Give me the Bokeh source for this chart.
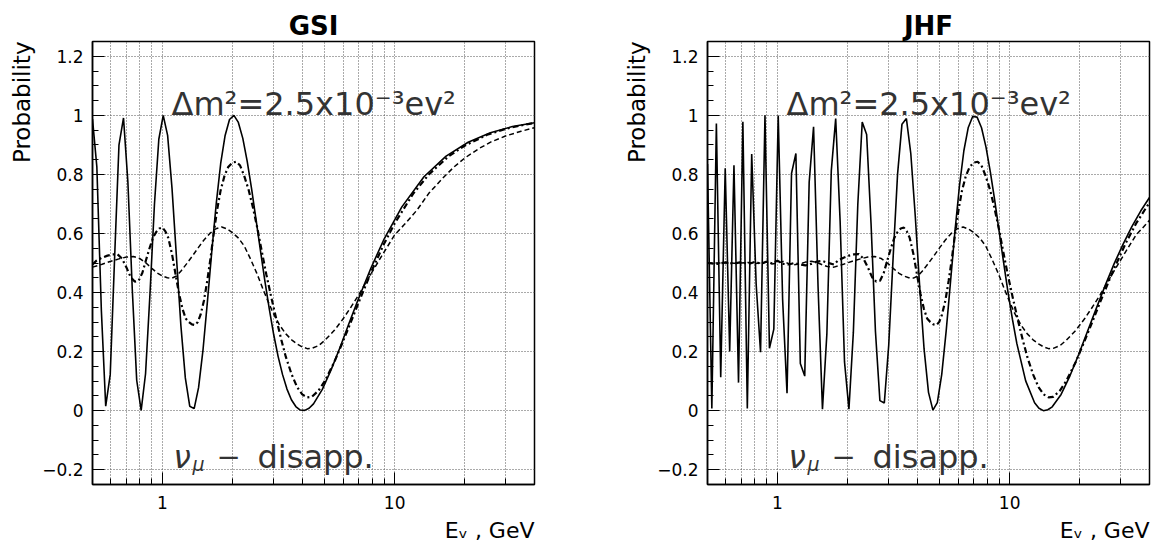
from bokeh.plotting import figure
from bokeh.models import Label, FixedTicker, Range1d, Title
from bokeh.layouts import row
from bokeh.embed import file_html
from bokeh.resources import INLINE

# ---------------- data ----------------
panel_titles = ["GSI", "JHF"]
x_title = "E\u1d65 , GeV"
y_title = "Probability"
x_major_ticks = [1, 10]
x_major_labels = ["1", "10"]
x_minor_ticks = [0.5, 0.6, 0.7, 0.8, 0.9, 2, 3, 4, 5, 6, 7, 8, 9, 20, 30, 40]
y_major_ticks = [-0.2, 0.0, 0.2, 0.4, 0.6, 0.8, 1.0, 1.2]
y_major_labels = ["\u22120.2", "0", "0.2", "0.4", "0.6", "0.8", "1", "1.2"]
y_minor_ticks = [-0.25, -0.2, -0.15, -0.1, -0.05, 0.0, 0.05, 0.1, 0.15, 0.2, 0.25, 0.3,
                 0.35, 0.4, 0.45, 0.5, 0.55, 0.6, 0.65, 0.7, 0.75, 0.8, 0.85, 0.9, 0.95,
                 1.0, 1.05, 1.1, 1.15, 1.2, 1.25]

# GSI, solid curve (sampled points)
gsi_solid_e = [0.500, 0.522, 0.546, 0.570, 0.596, 0.623, 0.650, 0.680, 0.710, 0.742,
               0.775, 0.810, 0.846, 0.884, 0.924, 0.965, 1.008, 1.053, 1.100, 1.150,
               1.201, 1.255, 1.311, 1.370, 1.431, 1.496, 1.563, 1.633, 1.706, 1.782,
               1.862, 1.945, 2.032, 2.123, 2.219, 2.318, 2.422, 2.530, 2.643, 2.762,
               2.886, 3.015, 3.150, 3.291, 3.438, 3.592, 3.753, 3.921, 4.097, 4.280,
               4.472, 4.881, 5.329, 5.817, 6.350, 6.930, 7.905, 9.016, 10.74, 13.37,
               16.65, 20.72, 25.82, 32.13, 40.0]
gsi_solid_p = [0.987, 0.826, 0.338, 0.015, 0.122, 0.525, 0.899, 0.991, 0.775, 0.408,
               0.103, 0.001, 0.125, 0.396, 0.698, 0.919, 1.000, 0.932, 0.752, 0.517,
               0.288, 0.111, 0.015, 0.007, 0.078, 0.207, 0.371, 0.543, 0.703, 0.837,
               0.932, 0.986, 1.000, 0.976, 0.922, 0.844, 0.750, 0.647, 0.542, 0.439,
               0.344, 0.257, 0.183, 0.122, 0.073, 0.037, 0.014, 0.002, 0.001, 0.008,
               0.023, 0.072, 0.139, 0.214, 0.294, 0.372, 0.483, 0.582, 0.690, 0.792,
               0.862, 0.909, 0.941, 0.962, 0.975]

# GSI, dash-dot curve
gsi_dd_e = [0.50, 0.52, 0.55, 0.58, 0.61, 0.64, 0.67, 0.70, 0.73, 0.76,
            0.79, 0.82, 0.85, 0.88, 0.91, 0.94, 0.97, 1.00, 1.03, 1.06,
            1.10, 1.14, 1.18, 1.22, 1.26, 1.30, 1.34, 1.38, 1.42, 1.46,
            1.51, 1.56, 1.61, 1.66, 1.72, 1.78, 1.85, 1.92, 2.00, 2.08,
            2.16, 2.25, 2.35, 2.45, 2.56, 2.68, 2.80, 2.95, 3.10, 3.25,
            3.40, 3.60, 3.80, 4.00, 4.20, 4.40, 4.70, 5.00, 5.50, 6.00,
            6.50, 7.00, 8.00, 9.00, 10.0, 12.0, 14.0, 17.0, 20.0, 25.0,
            30.0, 35.0, 40.0]
gsi_dd_p = [0.495, 0.508, 0.518, 0.525, 0.529, 0.530, 0.515, 0.485, 0.452, 0.437,
            0.440, 0.467, 0.510, 0.550, 0.585, 0.605, 0.617, 0.620, 0.607, 0.585,
            0.530, 0.460, 0.395, 0.345, 0.312, 0.300, 0.292, 0.290, 0.300, 0.325,
            0.373, 0.440, 0.515, 0.595, 0.680, 0.745, 0.795, 0.825, 0.840, 0.843,
            0.830, 0.795, 0.748, 0.690, 0.620, 0.538, 0.462, 0.380, 0.307, 0.240,
            0.182, 0.123, 0.080, 0.055, 0.045, 0.047, 0.068, 0.100, 0.165, 0.236,
            0.303, 0.367, 0.477, 0.565, 0.634, 0.734, 0.799, 0.860, 0.897, 0.934,
            0.954, 0.966, 0.974]

# GSI, dashed curve
gsi_da_e = [0.50, 0.55, 0.60, 0.65, 0.70, 0.75, 0.80, 0.85, 0.90, 0.95,
            1.00, 1.05, 1.10, 1.15, 1.20, 1.27, 1.35, 1.43, 1.51, 1.60,
            1.70, 1.80, 1.90, 2.00, 2.12, 2.25, 2.40, 2.55, 2.70, 2.85,
            3.00, 3.20, 3.40, 3.60, 3.80, 4.00, 4.20, 4.40, 4.70, 5.00,
            5.50, 6.00, 6.50, 7.00, 8.00, 9.00, 10.0, 11.0, 12.5, 14.0,
            16.0, 18.0, 20.0, 23.0, 26.0, 30.0, 35.0, 40.0]
gsi_da_p = [0.486, 0.496, 0.506, 0.514, 0.520, 0.522, 0.515, 0.500, 0.482, 0.466,
            0.456, 0.450, 0.449, 0.456, 0.472, 0.497, 0.525, 0.553, 0.578, 0.600,
            0.616, 0.622, 0.615, 0.603, 0.585, 0.558, 0.512, 0.465, 0.415, 0.370,
            0.330, 0.289, 0.260, 0.240, 0.226, 0.216, 0.210, 0.211, 0.220, 0.238,
            0.272, 0.311, 0.352, 0.392, 0.470, 0.537, 0.595, 0.630, 0.680, 0.735,
            0.785, 0.825, 0.855, 0.887, 0.910, 0.930, 0.946, 0.958]

# JHF, solid curve (sampled points)
jhf_solid_e = [0.500, 0.522, 0.546, 0.570, 0.596, 0.623, 0.650, 0.680, 0.710, 0.742,
               0.775, 0.810, 0.846, 0.884, 0.924, 0.965, 1.008, 1.053, 1.100, 1.150,
               1.201, 1.255, 1.311, 1.370, 1.431, 1.496, 1.563, 1.633, 1.706, 1.782,
               1.862, 1.945, 2.032, 2.123, 2.219, 2.318, 2.422, 2.530, 2.643, 2.762,
               2.886, 3.015, 3.150, 3.291, 3.438, 3.592, 3.753, 3.921, 4.097, 4.280,
               4.472, 4.672, 4.881, 5.100, 5.329, 5.567, 5.817, 6.077, 6.350, 6.634,
               6.930, 7.241, 7.565, 7.905, 8.259, 8.629, 9.016, 9.419, 9.842, 10.28,
               10.74, 11.72, 12.80, 13.37, 13.97, 14.60, 15.25, 16.65, 18.18, 19.84,
               21.66, 23.65, 25.82, 28.18, 30.76, 33.58, 36.65, 40.0]
jhf_solid_p = [0.835, 0.007, 0.972, 0.113, 0.821, 0.200, 0.831, 0.095, 0.978, 0.007,
               0.869, 0.428, 0.198, 1.000, 0.211, 0.276, 0.999, 0.376, 0.059, 0.803,
               0.871, 0.160, 0.117, 0.773, 0.961, 0.421, 0.005, 0.261, 0.812, 0.989,
               0.642, 0.165, 0.005, 0.265, 0.699, 0.977, 0.935, 0.634, 0.268, 0.034,
               0.026, 0.222, 0.520, 0.801, 0.970, 0.989, 0.870, 0.661, 0.421, 0.209,
               0.062, 0.002, 0.027, 0.123, 0.270, 0.439, 0.610, 0.760, 0.880, 0.959,
               0.996, 0.994, 0.958, 0.893, 0.808, 0.710, 0.605, 0.501, 0.400, 0.309,
               0.227, 0.101, 0.027, 0.008, 0.000, 0.003, 0.013, 0.055, 0.118, 0.191,
               0.270, 0.348, 0.425, 0.498, 0.563, 0.623, 0.676, 0.722]

# JHF, dash-dot curve
jhf_dd_e = [0.50, 0.55, 0.60, 0.65, 0.70, 0.75, 0.80, 0.85, 0.90, 0.95,
            1.00, 1.06, 1.12, 1.18, 1.25, 1.32, 1.40, 1.48, 1.56, 1.64,
            1.751, 1.821, 1.926, 2.031, 2.136, 2.241, 2.346, 2.451, 2.556, 2.661,
            2.766, 2.871, 2.976, 3.081, 3.186, 3.292, 3.397, 3.502, 3.607, 3.712,
            3.852, 3.992, 4.132, 4.272, 4.412, 4.552, 4.692, 4.832, 4.972, 5.112,
            5.287, 5.462, 5.638, 5.813, 6.023, 6.233, 6.478, 6.723, 7.003, 7.283,
            7.563, 7.879, 8.229, 8.579, 8.964, 9.384, 9.804, 10.33, 10.85, 11.38,
            11.91, 12.61, 13.31, 14.01, 14.71, 15.41, 16.46, 17.51, 19.26, 21.01,
            22.76, 24.51, 28.01, 31.51, 35.02, 40.0]
jhf_dd_p = [0.500, 0.497, 0.502, 0.498, 0.503, 0.496, 0.504, 0.497, 0.505, 0.498,
            0.508, 0.497, 0.495, 0.500, 0.495, 0.492, 0.497, 0.505, 0.507, 0.501,
            0.495, 0.508, 0.518, 0.525, 0.529, 0.530, 0.515, 0.485, 0.452, 0.437,
            0.440, 0.467, 0.510, 0.550, 0.585, 0.605, 0.617, 0.620, 0.607, 0.585,
            0.530, 0.460, 0.395, 0.345, 0.312, 0.300, 0.292, 0.290, 0.300, 0.325,
            0.373, 0.440, 0.515, 0.595, 0.680, 0.745, 0.795, 0.825, 0.840, 0.843,
            0.830, 0.795, 0.748, 0.690, 0.620, 0.538, 0.462, 0.380, 0.307, 0.240,
            0.182, 0.123, 0.080, 0.055, 0.045, 0.047, 0.068, 0.100, 0.165, 0.236,
            0.303, 0.367, 0.477, 0.565, 0.634, 0.705]

# JHF, dashed curve
jhf_da_e = [0.50, 0.55, 0.60, 0.65, 0.70, 0.75, 0.80, 0.85, 0.90, 0.95,
            1.00, 1.06, 1.12, 1.18, 1.25, 1.32, 1.40, 1.48, 1.56, 1.64,
            1.751, 1.926, 2.101, 2.276, 2.451, 2.626, 2.801, 2.976, 3.151, 3.327,
            3.502, 3.677, 3.852, 4.027, 4.202, 4.447, 4.727, 5.007, 5.287, 5.603,
            5.953, 6.303, 6.653, 7.003, 7.423, 7.879, 8.404, 8.929, 9.454, 9.980,
            10.50, 11.21, 11.91, 12.61, 13.31, 14.01, 14.71, 15.41, 16.46, 17.51,
            19.26, 21.01, 22.76, 24.51, 28.01, 31.51, 35.02, 38.52, 40.0]
jhf_da_p = [0.500, 0.500, 0.501, 0.499, 0.500, 0.502, 0.498, 0.500, 0.503, 0.497,
            0.500, 0.505, 0.498, 0.494, 0.497, 0.503, 0.506, 0.502, 0.494, 0.488,
            0.486, 0.496, 0.506, 0.514, 0.520, 0.522, 0.515, 0.500, 0.482, 0.466,
            0.456, 0.450, 0.449, 0.456, 0.472, 0.497, 0.525, 0.553, 0.578, 0.600,
            0.616, 0.622, 0.615, 0.603, 0.585, 0.558, 0.512, 0.465, 0.415, 0.370,
            0.330, 0.289, 0.260, 0.240, 0.226, 0.216, 0.210, 0.211, 0.220, 0.238,
            0.272, 0.311, 0.352, 0.392, 0.470, 0.537, 0.595, 0.630, 0.645]

# ---------------- layout ----------------
H = 551
FL, FR, FT, FB = 92, 534, 41, 484
X0, X1, Y0, Y1 = 0.5, 40.0, -0.25, 1.25
FONT = "DejaVu Sans"


def xd(px):
    return X0 * (X1 / X0) ** ((px - FL) / (FR - FL))


def yd(py):
    return Y1 - (py - FT) * (Y1 - Y0) / (FB - FT)


def txt(p, px, py, s, size, align="left", style="normal", color="#333333"):
    p.add_layout(Label(x=xd(px), y=yd(py), text=s, text_font=FONT,
                       text_font_size=f"{size}px", text_font_style=style,
                       text_color=color, text_align=align,
                       text_baseline="alphabetic"))


def panel(title, width, es, ps, edd, pdd, eda, pda):
    p = figure(width=width, height=H, x_axis_type="log",
               x_range=Range1d(X0, X1), y_range=Range1d(Y0, Y1),
               output_backend="svg", toolbar_location=None,
               min_border_left=FL, min_border_right=width - FR,
               min_border_top=FT, min_border_bottom=H - FB)
    p.background_fill_color = "white"
    p.border_fill_color = "white"
    p.outline_line_color = "black"
    p.outline_line_width = 1.5

    # title above the frame
    p.title.text = title
    p.title.align = "center"
    p.title.text_font = FONT
    p.title.text_font_size = "26px"
    p.title.text_font_style = "bold"
    p.title.text_color = "black"
    p.title.standoff = 2

    p.xaxis.ticker = FixedTicker(ticks=x_major_ticks, minor_ticks=x_minor_ticks)
    p.xaxis.major_label_overrides = {t: l for t, l in zip(x_major_ticks, x_major_labels)}
    p.yaxis.ticker = FixedTicker(ticks=y_major_ticks, minor_ticks=y_minor_ticks)
    p.yaxis.major_label_overrides = {t: l for t, l in zip(y_major_ticks, y_major_labels)}
    for ax in (p.xaxis[0], p.yaxis[0]):
        ax.axis_line_color = "black"
        ax.axis_line_width = 1.5
        ax.major_tick_in = 12
        ax.major_tick_out = 0
        ax.minor_tick_in = 6
        ax.minor_tick_out = 0
        ax.major_tick_line_color = "black"
        ax.minor_tick_line_color = "black"
        ax.major_label_text_font = FONT
        ax.major_label_text_font_size = "17px"
        ax.major_label_text_color = "black"
    p.xaxis.major_label_standoff = 11
    p.yaxis.major_label_standoff = 9

    # axis titles placed as side titles (ROOT style: at the far end of the axis)
    p.add_layout(Title(text=y_title, align="right", text_font=FONT,
                       text_font_size="23px", text_font_style="normal",
                       text_color="black", standoff=9), "left")
    p.add_layout(Title(text=x_title, align="right", text_font=FONT,
                       text_font_size="22px", text_font_style="normal",
                       text_color="black", standoff=9), "below")

    for g in (p.xgrid[0], p.ygrid[0]):
        g.grid_line_color = "#555555"
        g.grid_line_dash = "1 2"
        g.grid_line_width = 1
    p.xgrid.minor_grid_line_color = "#555555"
    p.xgrid.minor_grid_line_dash = "1 2"
    p.xgrid.minor_grid_line_width = 1

    p.line(eda, pda, line_color="black", line_width=1.5, line_dash="5 3")
    p.line(edd, pdd, line_color="black", line_width=2.2, line_dash="6 3 2 3")
    p.line(es, ps, line_color="black", line_width=1.6)

    # texts inside the frame
    txt(p, 171, 103, "\u0394m\u00b2=2.5x10\u207b\u00b3ev\u00b2", 32)
    txt(p, 173, 456, "\u03bd", 31, style="italic")
    txt(p, 192, 463, "\u03bc", 19, style="italic")
    txt(p, 216, 456, "\u2212", 29)
    txt(p, 257, 456, "disapp.", 32)
    return p


p1 = panel(panel_titles[0], 615, gsi_solid_e, gsi_solid_p, gsi_dd_e, gsi_dd_p, gsi_da_e, gsi_da_p)
p2 = panel(panel_titles[1], 541, jhf_solid_e, jhf_solid_p, jhf_dd_e, jhf_dd_p, jhf_da_e, jhf_da_p)

layout = row(p1, p2)
open("out.html", "w").write(file_html(layout, INLINE))
